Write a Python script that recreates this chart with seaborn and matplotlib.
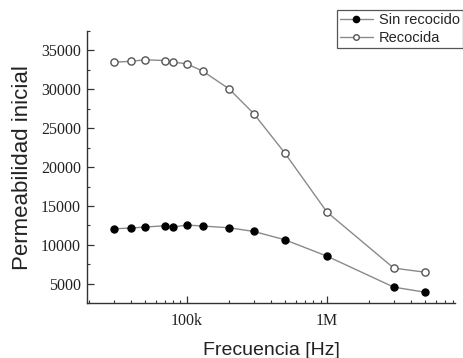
import numpy as np
import pandas as pd
import matplotlib
matplotlib.use("Agg")
import matplotlib.pyplot as plt
import matplotlib.ticker as mticker
from matplotlib.lines import Line2D
import seaborn as sns

freq = [30e3, 40e3, 50e3, 70e3, 80e3, 100e3, 130e3, 200e3, 300e3, 500e3, 1e6, 3e6, 5e6]
sin_recocido = [12080, 12170, 12300, 12470, 12300, 12560, 12430, 12210, 11740, 10670, 8565, 4575, 3930]
recocida = [33500, 33600, 33800, 33700, 33500, 33280, 32340, 30070, 26890, 21830, 14230, 7020, 6500]
series_names = ["Sin recocido", "Recocida"]
xtick_vals = [1e5, 1e6]
xtick_labels = ["100k", "1M"]
ytick_vals = [5000, 10000, 15000, 20000, 25000, 30000, 35000]

sns.set_theme(style="ticks")
plt.rcParams["font.family"] = ["Liberation Serif", "DejaVu Serif"]

fig = plt.figure(figsize=(4.64, 3.58), dpi=100)
ax = fig.add_axes([87.3 / 464, 54.7 / 358, (455 - 87.3) / 464, (303.3 - 31) / 358])

line_col = "#8a8a8a"
df_sin = pd.DataFrame({"f": freq, "p": sin_recocido})
df_rec = pd.DataFrame({"f": freq, "p": recocida})

sns.lineplot(data=df_sin, x="f", y="p", ax=ax, color=line_col, linewidth=1.0,
             marker="o", markersize=5.2, markerfacecolor="black", markeredgecolor="black",
             markeredgewidth=0.8)
sns.lineplot(data=df_rec, x="f", y="p", ax=ax, color=line_col, linewidth=1.0,
             marker="o", markersize=5.2, markerfacecolor="white", markeredgecolor="#555555",
             markeredgewidth=1.0)

ax.set_xscale("log")
ax.set_xlim(19.5e3, 8.2e6)
ax.set_ylim(2500, 37500)

ax.xaxis.set_major_locator(mticker.FixedLocator(xtick_vals))
ax.xaxis.set_major_formatter(mticker.FixedFormatter(xtick_labels))
ax.xaxis.set_minor_locator(mticker.LogLocator(base=10, subs=np.arange(2, 10), numticks=20))
ax.xaxis.set_minor_formatter(mticker.NullFormatter())
ax.yaxis.set_major_locator(mticker.FixedLocator(ytick_vals))
ax.yaxis.set_minor_locator(mticker.MultipleLocator(2500))

for sp in ["top", "right"]:
    ax.spines[sp].set_visible(False)
for sp in ["left", "bottom"]:
    ax.spines[sp].set_color("#333333")
    ax.spines[sp].set_linewidth(1.0)

ax.tick_params(axis="both", which="major", direction="in", length=5, width=0.9,
               color="#333333", labelsize=11.5, labelcolor="#222222")
ax.tick_params(axis="both", which="minor", direction="in", length=2.5, width=0.8,
               color="#333333")
ax.tick_params(axis="y", which="major", pad=4.5)
ax.tick_params(axis="x", which="major", pad=7)

ax.set_xlabel("Frecuencia [Hz]", family=["Liberation Sans", "DejaVu Sans"],
              fontsize=14, labelpad=9, color="#222222")
ax.set_ylabel("Permeabilidad inicial", family=["Liberation Sans", "DejaVu Sans"],
              fontsize=16, labelpad=6, color="#222222")

handles = [
    Line2D([], [], color=line_col, linewidth=1.0, marker="o", markersize=4.5,
           markerfacecolor="black", markeredgecolor="black"),
    Line2D([], [], color=line_col, linewidth=1.0, marker="o", markersize=4,
           markerfacecolor="white", markeredgecolor="#555555"),
]
leg = fig.legend(handles, series_names, loc="upper right",
                 bbox_to_anchor=(463 / 464, 1 - 10 / 358),
                 prop={"family": ["Liberation Sans", "DejaVu Sans"], "size": 10.5},
                 frameon=True, fancybox=False, framealpha=1, edgecolor="#555555",
                 borderpad=0.2, handlelength=2.25, handletextpad=0.45,
                 labelspacing=0.28, borderaxespad=0)
leg.get_frame().set_linewidth(0.9)

fig.savefig("out.png", dpi=100)
